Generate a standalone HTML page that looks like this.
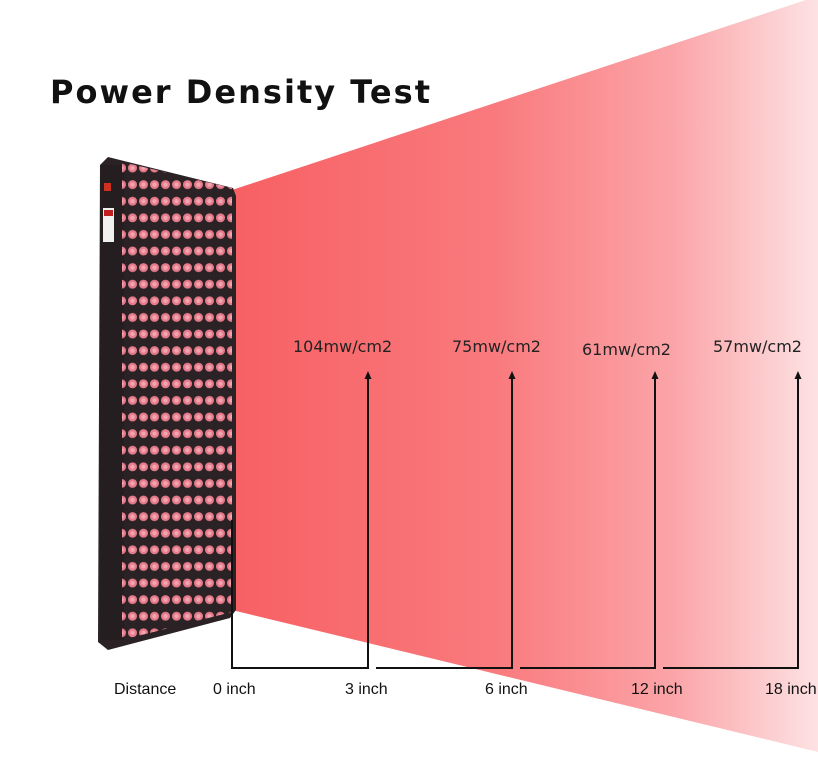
<!DOCTYPE html>
<html><head><style>
html,body{margin:0;padding:0;background:#fff;}
body{width:818px;height:763px;overflow:hidden;position:relative;}
</style></head><body>
<svg width="818" height="763" viewBox="0 0 818 763" xmlns="http://www.w3.org/2000/svg" style="position:absolute;left:0;top:0">
<defs>
<linearGradient id="beam" x1="232" y1="0" x2="818" y2="0" gradientUnits="userSpaceOnUse">
<stop offset="0" stop-color="#f76064"/>
<stop offset="0.45" stop-color="#f97a7d"/>
<stop offset="0.75" stop-color="#fba4a8"/>
<stop offset="1" stop-color="#fde2e3"/>
</linearGradient>
<pattern id="leds" x="127" y="160" width="11" height="16.6" patternUnits="userSpaceOnUse">
<circle cx="5.5" cy="8" r="4.5" fill="#e47a8a"/>
<circle cx="5.5" cy="8" r="2.2" fill="#f2a4b0"/>
</pattern>
<clipPath id="ledclip"><polygon points="122,162 232,188 232,612 122,640"/></clipPath>
</defs>
<polygon points="232,190 818,-4 818,752 232,610" fill="url(#beam)"/>
<polygon points="100,165 108,157 233,188 236,196 236,610 230,618 108,650 98,642" fill="#2a2224"/>
<rect x="100" y="165" width="24" height="475" fill="#241e20"/>
<g clip-path="url(#ledclip)"><rect x="122" y="150" width="112" height="500" fill="url(#leds)"/></g>
<rect x="104" y="183" width="7" height="8" fill="#d03020"/>
<rect x="103" y="208" width="11" height="34" fill="#f0f0f0"/>
<rect x="104" y="210" width="9" height="6" fill="#c02020"/>
<g stroke="#111" stroke-width="2" fill="none">
<polyline points="232,520 232,668 368,668 368,376"/>
<polyline points="376,668 512,668 512,376"/>
<polyline points="520,668 655,668 655,376"/>
<polyline points="663,668 798,668 798,376"/>
</g>
<g fill="#111">
<polygon points="368,371 364.5,379 371.5,379"/>
<polygon points="512,371 508.5,379 515.5,379"/>
<polygon points="655,371 651.5,379 658.5,379"/>
<polygon points="798,371 794.5,379 801.5,379"/>
</g>
<text x="50" y="103" font-family="DejaVu Sans, sans-serif" font-weight="bold" font-size="32" textLength="380" lengthAdjust="spacing" fill="#111">Power Density Test</text>
<g font-family="DejaVu Sans, sans-serif" font-size="16" fill="#222">
<text x="293" y="352">104mw/cm2</text>
<text x="452" y="352">75mw/cm2</text>
<text x="582" y="355">61mw/cm2</text>
<text x="713" y="352">57mw/cm2</text>
</g>
<g font-family="Liberation Sans, sans-serif" font-size="16" fill="#111">
<text x="114" y="694">Distance</text>
<text x="213" y="694">0 inch</text>
<text x="345" y="694">3 inch</text>
<text x="485" y="694">6 inch</text>
<text x="631" y="694">12 inch</text>
<text x="765" y="694">18 inch</text>
</g>
</svg>
</body></html>
